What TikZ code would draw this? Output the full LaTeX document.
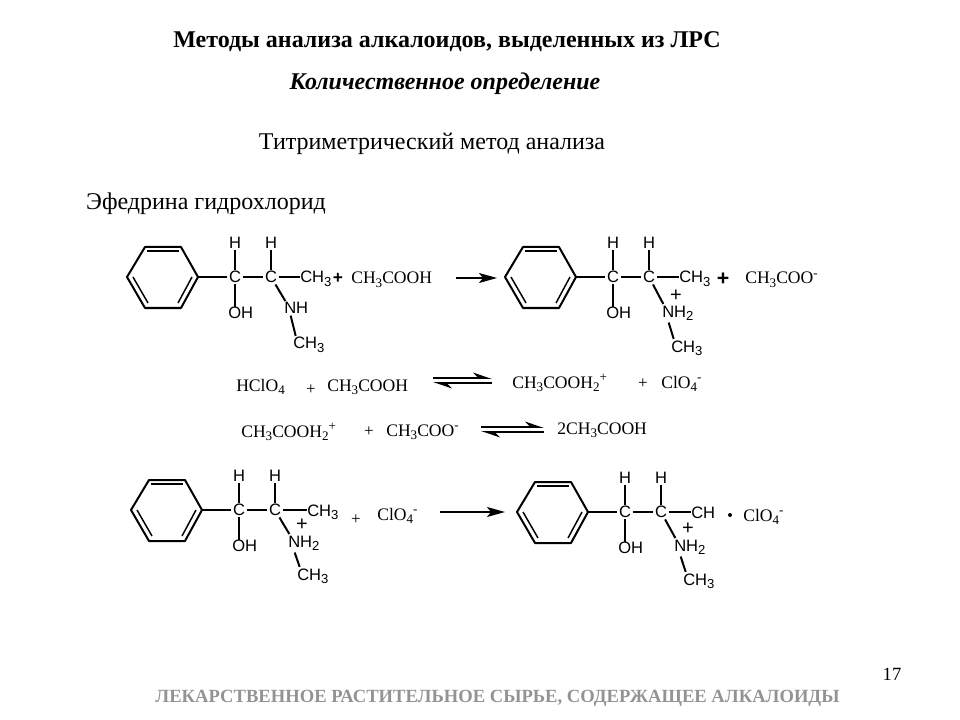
\documentclass[tikz,border=0pt]{standalone}
\usepackage{fontspec}
\setmainfont{Liberation Serif}
\newfontfamily\arialfont{Liberation Sans}
\usetikzlibrary{arrows.meta}

\tikzset{
	atom/.style={font=\arialfont\fontsize{12.4}{14}\selectfont, inner sep=1pt},
	atomtext/.style={atom, anchor=base west, inner sep=0pt},
	formula/.style={font=\fontsize{13.2}{15}\selectfont, anchor=base west, inner sep=0pt},
	plusthin/.style={font=\fontsize{12.8}{15}\selectfont, inner sep=0pt},
	plusbold/.style={font=\arialfont\bfseries\fontsize{13}{15}\selectfont, inner sep=0pt},
	pluscharge/.style={font=\arialfont\fontsize{15}{16}\selectfont, inner sep=0pt},
	bond/.style={line width=1.5pt},
	inbond/.style={line width=1.1pt},
	rxnarrow/.style={line width=1.4pt, -{Stealth[length=13.5pt, width=7.5pt, inset=3pt]}},
	eqarrow/.style={line width=1.4pt, -{Stealth[harpoon, length=12pt, width=8pt]}},
	heading/.style={font=\fontsize{18}{20}\selectfont, inner sep=0pt},
}

\newcommand{\dn}[1]{\raisebox{-.45ex}{\fontsize{9.8}{10}\selectfont #1}}
\newcommand{\up}[1]{\raisebox{.85ex}{\fontsize{9.8}{10}\selectfont #1}}

% ring, two carbons, H, OH and the methyl end
\newcommand{\alkbase}[5]{
	\begin{scope}[shift={(#2,#3)}, name prefix=#1-]
		\coordinate (r1) at (0,0);
		\coordinate (r2) at (18,-30);
		\coordinate (r3) at (54,-30);
		\coordinate (r4) at (71,0);
		\coordinate (r5) at (54,31);
		\coordinate (r6) at (18,31);
		\draw[bond, line join=round] (r1) -- (r2) -- (r3) -- (r4) -- (r5) -- (r6) -- cycle;
		\draw[inbond] (20,-26) -- (52,-26);
		\draw[inbond] (6,0) -- (21,26);
		\draw[inbond] (65,0) -- (51,26);
		\node[atom] (c1) at (108,0) {C};
		\node[atom] (c2) at (144,0) {C};
		\node[atom] (h1) at (108,-34) {H};
		\node[atom] (h2) at (144,-34) {H};
		\node[atom, anchor=west, inner sep=0pt] (oh) at (101,36) {OH};
		\node[atomtext] (me) at (#4,6) {#5};
		\draw[bond] (r4) -- (c1);
		\draw[bond] (c1) -- (c2);
		\draw[bond] (c1) -- (h1);
		\draw[bond] (c2) -- (h2);
		\draw[bond] (c1) -- (c1 |- oh.north);
		\draw[bond] (c2) -- (c2 -| me.west);
	\end{scope}
}

% amine group under the second carbon
\newcommand{\alkamine}[6]{
	\begin{scope}[shift={(#2,#3)}, name prefix=#1-]
		\node[atomtext] (nh) at (157,#5) {#4};
		\node[atomtext] (nme) at (166,#6) {CH\dn{3}};
		\coordinate (nhin) at ([xshift=1pt, yshift=1pt]nh.north west);
		\coordinate (nhout) at ([xshift=5pt, yshift=-1pt]nh.south west);
		\coordinate (nmein) at ([xshift=2pt, yshift=1pt]nme.north west);
		\draw[bond] (c2) -- (nhin);
		\draw[bond] (nhout) -- (nmein);
	\end{scope}
}

\begin{document}
\begin{tikzpicture}[x=0.75pt, y=-0.75pt]
	\useasboundingbox (0,0) rectangle (960,720);

	\node[heading, font=\bfseries\fontsize{18}{20}\selectfont] (title) at (447,42) {Методы анализа алкалоидов, выделенных из ЛРС};
	\node[heading, font=\bfseries\itshape\fontsize{18}{20}\selectfont] (subtitle) at (445,84) {Количественное определение};
	\node[heading] (method) at (432,144) {Титриметрический метод анализа};
	\node[heading] (drug) at (206,204) {Эфедрина гидрохлорид};

	\node[font=\fontsize{14}{16}\selectfont, inner sep=0pt] (page) at (892,674) {17};
	\node[font=\bfseries\fontsize{13.95}{16}\selectfont, text=gray!85, inner sep=0pt] (footer) at (497.5,698) {ЛЕКАРСТВЕННОЕ РАСТИТЕЛЬНОЕ СЫРЬЕ, СОДЕРЖАЩЕЕ АЛКАЛОИДЫ};

	% first row
	\alkbase{a}{127}{277}{173}{CH\dn{3}}
	\alkamine{a}{127}{277}{NH}{37}{72}
	\node[plusbold] (aplus) at (338,278) {+};
	\node[formula] (acid) at (351,284) {CH\dn{3}COOH};
	\coordinate (arrowa) at (456,278);
	\coordinate (arrowb) at (497,278);
	\draw[rxnarrow] (arrowa) -- (arrowb);
	\alkbase{b}{505}{277}{174}{CH\dn{3}}
	\alkamine{b}{505}{277}{NH\dn{2}}{40}{75}
	\node[pluscharge] (bcharge) at (676,296) {+};
	\node[plusbold, font=\arialfont\bfseries\fontsize{16}{18}\selectfont] (bplus) at (723,279) {+};
	\node[formula] (acetate) at (745,284) {CH\dn{3}COO\up{-}};

	% equilibria
	\node[formula] (perchl) at (236,391) {HClO\dn{4}};
	\node[plusthin] (eplusa) at (311,390) {+};
	\node[formula] (acidb) at (327,391) {CH\dn{3}COOH};
	\coordinate (eqa) at (433,378);
	\coordinate (eqb) at (492,378);
	\coordinate (eqc) at (433,383);
	\coordinate (eqd) at (492,383);
	\draw[eqarrow] (eqa) -- (eqb);
	\draw[eqarrow] (eqd) -- (eqc);
	\node[formula] (oniuma) at (512,388) {CH\dn{3}COOH\dn{2}\up{+}};
	\node[plusthin] (eplusb) at (643,384) {+};
	\node[formula] (clo) at (661,388) {ClO\dn{4}\up{-}};

	\node[formula] (oniumb) at (241,437) {CH\dn{3}COOH\dn{2}\up{+}};
	\node[plusthin] (eplusc) at (369,432) {+};
	\node[formula] (acetateb) at (386,436) {CH\dn{3}COO\up{-}};
	\coordinate (eqe) at (481,427);
	\coordinate (eqf) at (544,427);
	\coordinate (eqg) at (481,432);
	\coordinate (eqh) at (544,432);
	\draw[eqarrow] (eqe) -- (eqf);
	\draw[eqarrow] (eqh) -- (eqg);
	\node[formula] (twoacid) at (557,434) {2CH\dn{3}COOH};

	% last row
	\alkbase{c}{131}{510}{176}{CH\dn{3}}
	\alkamine{c}{131}{510}{NH\dn{2}}{37}{70}
	\node[pluscharge] (ccharge) at (302,525) {+};
	\node[plusthin] (cplus) at (356,520) {+};
	\node[formula] (cloc) at (377,520) {ClO\dn{4}\up{-}};
	\coordinate (arrowc) at (440,512);
	\coordinate (arrowd) at (505,512);
	\draw[rxnarrow] (arrowc) -- (arrowd);
	\alkbase{d}{517}{512}{174}{CH}
	\alkamine{d}{517}{512}{NH\dn{2}}{39}{73}
	\node[pluscharge] (dcharge) at (688,529) {+};
	\node[circle, fill=black, minimum size=3pt, inner sep=0pt] (ddot) at (730,515) {};
	\node[formula] (clod) at (743,521) {ClO\dn{4}\up{-}};
\end{tikzpicture}
\end{document}
